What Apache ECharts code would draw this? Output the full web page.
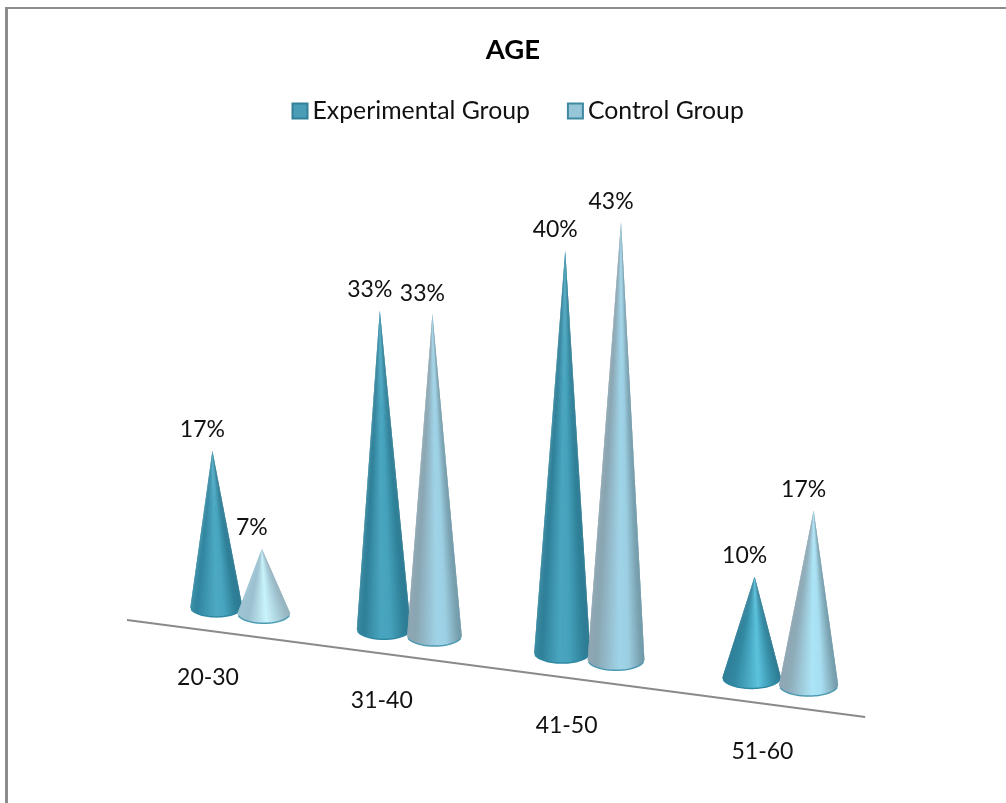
<!DOCTYPE html>
<html>
<head>
<meta charset="utf-8">
<style>html,body{margin:0;padding:0;background:#fff}#chart{width:1006px;height:803px}</style>
<script src="https://cdn.jsdelivr.net/npm/echarts@6/dist/echarts.min.js"></script>
</head>
<body>
<div id="chart"></div>
<script>
// Age distribution of the two study groups, in percent.
const ageBands = ['20-30', '31-40', '41-50', '51-60'];
const experimentalGroup = [17, 33, 40, 10];
const controlGroup = [7, 33, 43, 17];

const FONT = 'Lato, "Noto Sans", sans-serif';
const LABEL_FONT = '23px ' + FONT;

// Oblique view of the floor: bands widen and the baseline falls to the right.
const SIDE_OFFSET = 0.145;     // cone offset from its band centre, in bands
const BAND_GROWTH = 5.5;       // extra spacing per band, px
const FLOOR_ANCHOR = [127, 620];
const FLOOR_SLOPE = 0.1314;
const BASE_LIFT = 25;          // cone rim sits this far above the floor line
const AXIS_ENDS = [-0.708, 3.428];
const APEX_LEAN = [-3, -3, 4, 4];
const CONE_SLICES = 48;

function floorX(u, first, band) {
  return first + band * u + BAND_GROWTH * u * (u - 1);
}
function floorY(x) {
  return FLOOR_ANCHOR[1] + FLOOR_SLOPE * (x - FLOOR_ANCHOR[0]);
}
// Colour of a cone's surface at position t (0 left edge, 1 right edge).
function shadeAt(list, t) {
  for (let i = 1; i < list.length; i++) {
    if (t <= list[i][0]) {
      const k = (t - list[i - 1][0]) / (list[i][0] - list[i - 1][0]);
      return echarts.color.lerp(k, [list[i - 1][1], list[i][1]]);
    }
  }
  return list[list.length - 1][1];
}

// Horizontal shading of each cone; shorter cones catch more of the highlight.
const shades = {
  experimental: {
    tall: [[0, '#3a8aa2'], [0.12, '#2f7f98'], [0.45, '#4aa6c0'], [0.62, '#46a2bc'], [0.88, '#2f8199'], [1, '#2c7a92']],
    medium: [[0, '#3a8ea6'], [0.12, '#3185a0'], [0.5, '#4daac4'], [0.65, '#48a5bf'], [0.88, '#2f8199'], [1, '#2c7a92']],
    short: [[0, '#2f7f98'], [0.2, '#338aa3'], [0.62, '#5cc2dd'], [0.85, '#3a93ac'], [1, '#2c7a92']],
    rim: '#2f88a2'
  },
  control: {
    tall: [[0, '#8fa7b3'], [0.15, '#8aa6b3'], [0.55, '#9fd3e7'], [0.72, '#9ccfe3'], [0.92, '#7ca4b3'], [1, '#6f98a8']],
    medium: [[0, '#8fa7b3'], [0.15, '#8eabb8'], [0.55, '#abe4f6'], [0.72, '#a8dff2'], [0.92, '#82abba'], [1, '#6f98a8']],
    short: [[0, '#9ec4d4'], [0.2, '#9cc0cf'], [0.55, '#c8f4fc'], [0.8, '#aacfdc'], [1, '#93b1bd']],
    rim: '#4c9ab2'
  }
};

function coneRenderer(side, palette) {
  return function (params, api) {
    const cat = api.value(0);
    const value = api.value(1);
    const first = api.coord([0, 0])[0];
    const band = api.size([1, 0])[0];
    const origin = api.coord([cat, 0]);
    const top = api.coord([cat, value]);
    const u = cat + side * SIDE_OFFSET;

    const cx = floorX(u, first, band);
    const rimY = floorY(cx) - BASE_LIFT;
    // Cones further along the floor, and taller ones, come closer to the viewer.
    const depth = 1 + 0.0002 * (cx - 215) + 0.00115 * value;
    const height = (origin[1] - top[1]) * depth;
    const rx = 26 + 0.0059 * (cx - 216);
    const ry = rx * 0.39;
    const apex = [cx + APEX_LEAN[cat] + side, rimY - height];

    // Base outline, running from the left edge to the right edge.
    const arc = [];
    for (let i = 0; i <= CONE_SLICES; i++) {
      const a = Math.PI * (1 - i / CONE_SLICES);
      arc.push([cx + rx * Math.cos(a), rimY + ry * Math.sin(a)]);
    }
    const shade = value <= 10 ? palette.short : value < 20 ? palette.medium : palette.tall;

    // The surface is a fan of overlapping slices from the apex, so the shading
    // narrows to the tip; each slice paints over the soft edge of the last one.
    const slices = [];
    for (let i = 0; i < CONE_SLICES; i++) {
      const t = ((arc[i][0] + arc[i + 1][0]) / 2 - (cx - rx)) / (2 * rx);
      const end = arc[Math.min(i + 2, CONE_SLICES)];
      slices.push({ type: 'polygon', shape: { points: [apex, arc[i], end] },
        style: { fill: shadeAt(shade, t) } });
    }
    return {
      type: 'group',
      children: slices.concat([
        { type: 'polyline', shape: { points: arc.slice(4, CONE_SLICES - 3) },
          style: { fill: 'none', stroke: palette.rim, lineWidth: 1.5 } },
        { type: 'text', z2: 10,
          style: { x: apex[0] - 10, y: apex[1] - 21, text: value + '%', align: 'center',
                   verticalAlign: 'middle', font: LABEL_FONT, fill: '#111' } }
      ])
    };
  };
}

function floorRenderer(params, api) {
  const cat = api.value(0);
  const first = api.coord([0, 0])[0];
  const band = api.size([1, 0])[0];
  const cx = floorX(cat, first, band);
  const children = [{
    type: 'text',
    style: { x: cx - 32 + 4.8 * cat, y: floorY(cx) + 42.5 + cat, text: ageBands[cat], align: 'center',
             verticalAlign: 'middle', font: LABEL_FONT, fill: '#111' }
  }];
  if (cat === 0) {
    const x1 = floorX(AXIS_ENDS[0], first, band);
    const x2 = floorX(AXIS_ENDS[1], first, band);
    children.push({ type: 'line', shape: { x1: x1, y1: floorY(x1), x2: x2, y2: floorY(x2) },
      style: { stroke: '#8a8a8a', lineWidth: 2 } });
  }
  return { type: 'group', children: children };
}

const chart = echarts.init(document.getElementById('chart'), null, { renderer: 'canvas' });
chart.setOption({
  animation: false,
  backgroundColor: '#ffffff',
  title: {
    text: 'AGE', left: 508, top: 31, textAlign: 'center',
    textStyle: { fontFamily: FONT, fontWeight: 'bold', fontSize: 27.5, color: '#000' }
  },
  legend: {
    left: 291.5, top: 98.5, padding: 0, itemWidth: 15, itemHeight: 15, itemGap: 37,
    textStyle: { fontFamily: FONT, fontSize: 24.8, color: '#111' },
    data: [
      { name: 'Experimental Group', icon: 'rect', itemStyle: { color: '#4a9db6', borderColor: '#33809a', borderWidth: 2 } },
      { name: 'Control Group', icon: 'rect', itemStyle: { color: '#96c6d8', borderColor: '#3f8aa0', borderWidth: 2 } }
    ]
  },
  grid: { left: 155.5, width: 676, top: 100, height: 450 },
  xAxis: { type: 'category', data: ageBands, show: false },
  yAxis: { type: 'value', min: 0, max: 50, show: false },
  graphic: [
    { type: 'rect', shape: { x: 5, y: 7, width: 3, height: 796 }, style: { fill: '#8c8c8c' }, silent: true },
    { type: 'rect', shape: { x: 5, y: 7, width: 1001, height: 2 }, style: { fill: '#8c8c8c' }, silent: true }
  ],
  series: [
    { type: 'custom', name: 'Age bands', silent: true, renderItem: floorRenderer,
      data: ageBands.map((_, i) => [i, 0]), encode: { x: 0, y: 1 } },
    { type: 'custom', name: 'Experimental Group', silent: true, itemStyle: { color: '#4a9db6' },
      renderItem: coneRenderer(-1, shades.experimental),
      data: experimentalGroup.map((v, i) => [i, v]), encode: { x: 0, y: 1 } },
    { type: 'custom', name: 'Control Group', silent: true, itemStyle: { color: '#96c6d8' },
      renderItem: coneRenderer(1, shades.control),
      data: controlGroup.map((v, i) => [i, v]), encode: { x: 0, y: 1 } }
  ]
});
</script>
</body>
</html>
